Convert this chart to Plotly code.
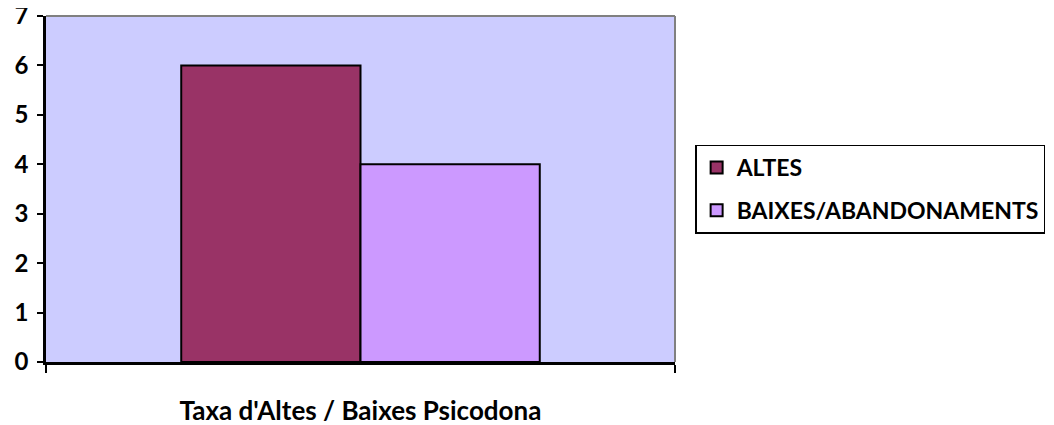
import plotly.graph_objects as go

categories = ["Taxa d'Altes / Baixes Psicodona"]
series_names = ["ALTES", "BAIXES/ABANDONAMENTS"]
altes = [6]
baixes = [4]
colors = ["#993366", "#CC99FF"]
y_ticks = [0, 1, 2, 3, 4, 5, 6, 7]

font_family = "Lato, 'Open Sans', sans-serif"

fig = go.Figure()
for name, vals, col in zip(series_names, [altes, baixes], colors):
    fig.add_trace(go.Bar(
        x=categories, y=vals, name=name, legendgroup=name,
        marker=dict(color=col, line=dict(color="black", width=2)),
    ))

fig.update_layout(
    width=1054, height=425,
    margin=dict(l=38, r=387, t=8, b=71, autoexpand=False),
    paper_bgcolor="white",
    plot_bgcolor="#CCCCFF",
    barmode="group",
    bargap=0.43,
    bargroupgap=0,
    font=dict(family=font_family, size=24, color="black"),
    legend=dict(
        x=1.032, y=0.5, xanchor="left", yanchor="middle",
        bordercolor="black", borderwidth=1.5,
        font=dict(family=font_family, size=23, color="black", weight="bold"),
        tracegroupgap=10,
        traceorder="grouped",
    ),
    showlegend=True,
)

fig.update_xaxes(
    type="category",
    automargin=False,
    tickson="boundaries",
    ticks="outside", ticklen=8, tickwidth=2, tickcolor="black",
    showline=True, linecolor="black", linewidth=2.5,
    showgrid=False,
    ticklabelstandoff=24,
    ticklabeloverflow="allow",
    tickfont=dict(family=font_family, size=26, color="black", weight="bold"),
)
fig.update_yaxes(
    range=[0, 7],
    automargin=False,
    tickvals=y_ticks,
    ticks="outside", ticklen=6, tickwidth=2, tickcolor="black",
    showline=True, linecolor="black", linewidth=2.5,
    showgrid=False, zeroline=False,
    ticklabelstandoff=4,
    ticklabeloverflow="allow",
    tickfont=dict(family=font_family, size=24, color="black", weight="bold"),
)

# gray frame on top and right of plot area
fig.add_shape(type="line", xref="paper", yref="paper", x0=0, x1=1, y0=1, y1=1,
              line=dict(color="#808080", width=2))
fig.add_shape(type="line", xref="paper", yref="paper", x0=1, x1=1, y0=0, y1=1,
              line=dict(color="#808080", width=2))

post_js = (
    "document.querySelectorAll('.main-svg').forEach(function(s){s.style.overflow='visible';});"
)

fig.write_html("out.html", post_script=post_js)
